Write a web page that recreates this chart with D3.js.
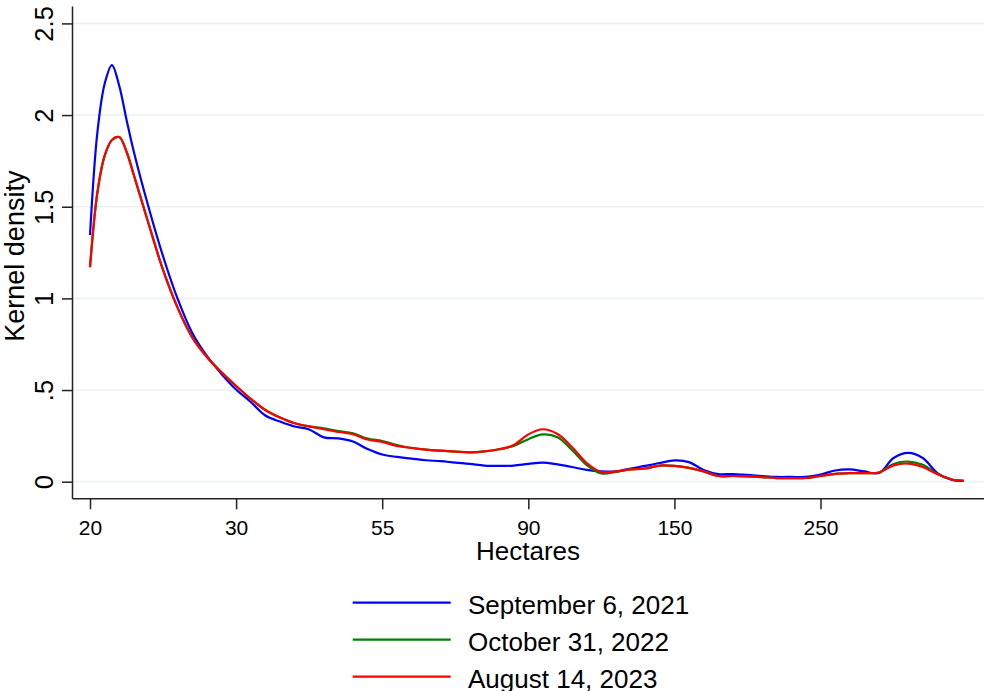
<!DOCTYPE html>
<html>
<head>
<meta charset="utf-8">
<script src="https://cdn.jsdelivr.net/npm/d3@7"></script>
<style>
  html, body { margin: 0; padding: 0; background: #ffffff; }
  svg { display: block; font-family: "Liberation Sans", Arial, Helvetica, sans-serif; }
</style>
</head>
<body>
<svg id="chart" width="984" height="691"></svg>
<script>
// x positions in axis-tick units (tick i carries label xTickLabels[i])
const xPos = [0,0.05,0.1,0.15,0.2,0.25,0.3,0.4,0.5,0.6,0.7,0.8,0.9,1.0,1.1,1.2,1.3,1.4,1.5,1.6,1.7,1.8,1.9,2.0,2.1,2.2,2.3,2.4,2.5,2.6,2.7,2.8,2.9,3.0,3.1,3.2,3.3,3.4,3.5,3.6,3.7,3.8,3.9,4.0,4.1,4.2,4.3,4.4,4.5,4.6,4.7,4.8,4.9,5.0,5.1,5.2,5.3,5.4,5.5,5.6,5.7,5.8,5.9,5.98];
const xTickLabels = ["20","30","55","90","150","250"];
const yTicks = [0,0.5,1,1.5,2,2.5];
const yTickLabels = ["0",".5","1","1.5","2","2.5"];
const seriesNames = ["September 6, 2021","October 31, 2022","August 14, 2023"];

const sep2021 = [1.346,1.902,2.17,2.273,2.16,1.975,1.80,1.50,1.23,0.997,0.811,0.686,0.588,0.503,0.435,0.361,0.328,0.301,0.285,0.242,0.236,0.219,0.178,0.148,0.135,0.126,0.117,0.112,0.104,0.097,0.088,0.086,0.088,0.097,0.104,0.094,0.080,0.064,0.056,0.056,0.072,0.086,0.102,0.116,0.107,0.064,0.042,0.042,0.037,0.031,0.026,0.026,0.026,0.039,0.061,0.067,0.056,0.047,0.129,0.157,0.129,0.047,0.009,0.005];
const oct2022 = [1.17,1.574,1.777,1.864,1.88,1.80,1.673,1.41,1.155,0.948,0.787,0.680,0.597,0.522,0.452,0.391,0.350,0.319,0.302,0.291,0.276,0.264,0.235,0.222,0.200,0.184,0.175,0.169,0.164,0.160,0.165,0.177,0.195,0.232,0.258,0.243,0.172,0.091,0.045,0.053,0.067,0.072,0.088,0.086,0.075,0.056,0.031,0.031,0.029,0.025,0.020,0.019,0.020,0.031,0.043,0.047,0.047,0.050,0.097,0.110,0.092,0.042,0.012,0.005];
const aug2023 = [1.17,1.574,1.777,1.864,1.88,1.80,1.673,1.41,1.155,0.948,0.787,0.680,0.597,0.522,0.452,0.391,0.350,0.319,0.302,0.286,0.271,0.259,0.230,0.217,0.195,0.184,0.175,0.169,0.164,0.160,0.165,0.177,0.200,0.258,0.286,0.260,0.188,0.102,0.053,0.056,0.067,0.072,0.088,0.086,0.075,0.056,0.031,0.031,0.029,0.025,0.020,0.019,0.020,0.031,0.043,0.047,0.047,0.050,0.089,0.099,0.080,0.042,0.012,0.005];
const seriesValues = [sep2021, oct2022, aug2023];
const seriesColors = ["#0000ff", "#008000", "#ff0000"];

const svg = d3.select("#chart");
const plotLeft = 72, plotRight = 984, plotTop = 6, plotBottom = 498.3;

const x = d3.scaleLinear().domain([-0.1232, 6.119]).range([plotLeft, plotRight]);
const y = d3.scaleLinear().domain([-0.0906, 2.595]).range([plotBottom, plotTop]);

// gridlines
svg.append("g").selectAll("line").data(yTicks).join("line")
  .attr("x1", plotLeft).attr("x2", plotRight)
  .attr("y1", d => y(d)).attr("y2", d => y(d))
  .attr("stroke", "#eaf2f3").attr("stroke-width", 1.6);

// y axis
const yAxis = svg.append("g").attr("transform", `translate(${plotLeft},0)`)
  .call(d3.axisLeft(y).tickValues(yTicks).tickFormat((d,i) => yTickLabels[i]).tickSize(10).tickSizeOuter(0));
yAxis.select(".domain").attr("stroke", "#222").attr("stroke-width", 1.5);
yAxis.selectAll(".tick line").attr("stroke", "#222").attr("stroke-width", 1.5);
yAxis.selectAll(".tick text")
  .attr("x", null).attr("dy", null)
  .attr("transform", "translate(-18.7,0) rotate(-90)")
  .attr("text-anchor", "middle")
  .attr("font-size", 25.5).attr("fill", "#000")
  .attr("font-family", "Liberation Sans, Arial, sans-serif");

// x axis
const xAxis = svg.append("g").attr("transform", `translate(0,${plotBottom})`)
  .call(d3.axisBottom(x).tickValues(d3.range(xTickLabels.length)).tickFormat((d,i) => xTickLabels[i]).tickSize(11).tickSizeOuter(0));
xAxis.select(".domain").attr("stroke", "#222").attr("stroke-width", 1.5);
xAxis.selectAll(".tick line").attr("stroke", "#222").attr("stroke-width", 1.5);
xAxis.selectAll(".tick text")
  .attr("y", 36.7).attr("dy", null)
  .attr("font-size", 21).attr("fill", "#000")
  .attr("font-family", "Liberation Sans, Arial, sans-serif");

// axis titles
svg.append("text").attr("x", (plotLeft + plotRight) / 2).attr("y", 560)
  .attr("text-anchor", "middle").attr("font-size", 26).attr("fill", "#000")
  .text("Hectares");
svg.append("text").attr("transform", `translate(23.5,${(plotTop + plotBottom) / 2 + 4}) rotate(-90)`)
  .attr("text-anchor", "middle").attr("font-size", 27).attr("fill", "#000")
  .text("Kernel density");

// lines
const line = d3.line().x((d, i) => x(xPos[i])).y(d => y(d)).curve(d3.curveCatmullRom.alpha(0.5));
svg.append("g").selectAll("path").data(seriesValues).join("path")
  .attr("d", d => line(d))
  .attr("fill", "none")
  .attr("stroke", (d, i) => seriesColors[i])
  .attr("stroke-width", 2.2)
  .attr("stroke-linejoin", "round");

// legend
const legend = svg.append("g");
const legY = [602.7, 639.7, 676.7];
seriesNames.forEach((name, i) => {
  legend.append("line").attr("x1", 352.7).attr("x2", 450.7)
    .attr("y1", legY[i]).attr("y2", legY[i])
    .attr("stroke", seriesColors[i]).attr("stroke-width", 2.2);
  legend.append("text").attr("x", 468).attr("y", legY[i] + 11.5)
    .attr("font-size", 26).attr("fill", "#000").text(name);
});
</script>
</body>
</html>
